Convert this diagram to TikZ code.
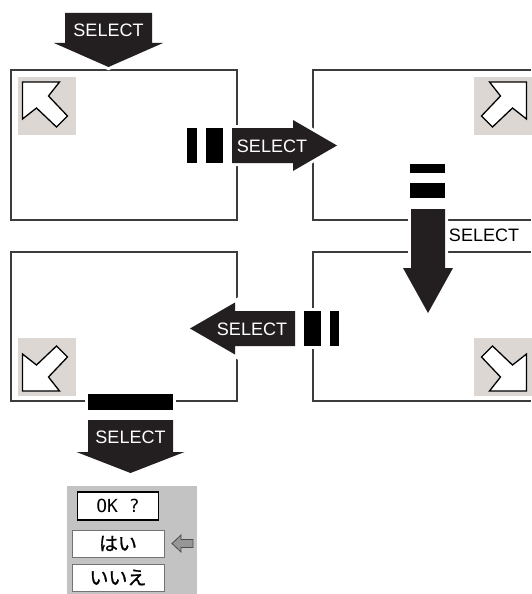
\documentclass[tikz,border=0pt]{standalone}
\usepackage{fontspec}
\setmainfont{Liberation Sans}
\newfontfamily\jpfont[FakeBold=1]{Noto Sans CJK JP}
\newfontfamily\okfont{DejaVu Sans Mono}
\usetikzlibrary{positioning}
\definecolor{ArrowBlack}{RGB}{35,31,32}
\definecolor{FrameGrey}{RGB}{60,60,60}
\definecolor{IconGrey}{RGB}{221,215,212}
\definecolor{MenuGrey}{RGB}{195,195,195}
\definecolor{MenuArrow}{RGB}{150,150,150}

% corner icon, drawn round (0,0), pointing to the upper left
\newcommand{\CornerIcon}{%
  \fill[IconGrey] (-29,-29) rectangle (29,29);
  \draw[fill=white, draw=black, line width=1.3pt, line join=miter]
    (-24,-24) -- (13,-24) -- (2,-10) -- (21,10) -- (10,21) -- (-10,2) -- (-24,13) -- cycle;
}

\begin{document}
\begin{tikzpicture}[
    x=1pt,
    y=-1pt,
    font=\fontsize{18}{20}\selectfont
]
\tikzset{
  frame/.style={draw=FrameGrey, line width=1.2pt},
  selarrow/.style={fill=ArrowBlack, preaction={draw=white, line width=6pt}},
  bar/.style={fill=black, preaction={draw=white, line width=6pt}},
  seltext/.style={text=white, inner sep=0pt},
  menubox/.style={fill=white, draw=black!55, line width=1pt,
    minimum width=92pt, minimum height=27pt, inner sep=0pt,
    font=\fontsize{19}{21}\selectfont}
}
\useasboundingbox (0,0) rectangle (531,594);

% Screens
\draw[frame] (11,70) rectangle (237,220);
\draw[frame] (531,70) -- (313,70) -- (313,220) -- (531,220);
\draw[frame] (531,252) -- (313,252) -- (313,401) -- (531,401);
\draw[frame] (11,252) rectangle (237,401);

% Corner icons
\foreach \cx/\cy/\sx/\sy in {46.5/106/1/1, 502.5/106/-1/1, 502.5/367/-1/-1, 46.5/367/1/-1}{
  \begin{scope}[shift={(\cx,\cy)}, xscale=\sx, yscale=\sy]
    \CornerIcon
  \end{scope}
}

% SELECT into the first screen
\path[selarrow] (65,13) -- (152,13) -- (152,43) -- (163,43) -- (108.5,67)
  -- (54,43) -- (65,43) -- cycle;
\node[seltext] (selTop) at (108.5,30) {SELECT};

% to the right
\fill[bar] (187,128) rectangle (197,163);
\fill[bar] (206,128) rectangle (223,163);
\path[selarrow] (232,128) -- (293,128) -- (293,120) -- (337,145.5)
  -- (293,171) -- (293,163) -- (232,163) -- cycle;
\node[seltext] (selRight) at (272,146) {SELECT};

% down
\fill[bar] (410,164) rectangle (445,173);
\fill[bar] (410,183) rectangle (445,198);
\path[selarrow] (411,209) -- (445,209) -- (445,268) -- (453,268) -- (428,313)
  -- (403,268) -- (411,268) -- cycle;
\node (selDown) at (484,235) {SELECT};

% to the left
\fill[bar] (304,311) rectangle (321,346);
\fill[bar] (330,311) rectangle (339,346);
\path[selarrow] (295,311) -- (235,311) -- (235,302.5) -- (190,328.5)
  -- (235,354.5) -- (235,346) -- (295,346) -- cycle;
\node[seltext] (selLeft) at (252,329) {SELECT};

% down to the menu
\fill[bar] (88,394) rectangle (173,410);
\path[selarrow] (88,420) -- (173,420) -- (173,452) -- (184.5,452) -- (130.5,473)
  -- (76.5,452) -- (88,452) -- cycle;
\node[seltext] (selBottom) at (130.5,437) {SELECT};

% Menu
\fill[MenuGrey] (67,486) rectangle (197,594);
\node[menubox] (yesBox) at (118,543.5) {\jpfont はい};
\node[menubox, below=6pt of yesBox] (noBox) {\jpfont いいえ};
\node[menubox, above=9pt of yesBox, draw=black, line width=1.3pt,
  minimum width=81pt, minimum height=28pt, font=\fontsize{18}{20}\selectfont]
  (okBox) {\okfont OK ?};
\path[fill=MenuArrow, draw=black!70, line width=0.8pt]
  (172,543.5) -- (181,535) -- (181,539.5) -- (193,539.5) -- (193,547.5)
  -- (181,547.5) -- (181,552) -- cycle;

\end{tikzpicture}
\end{document}
